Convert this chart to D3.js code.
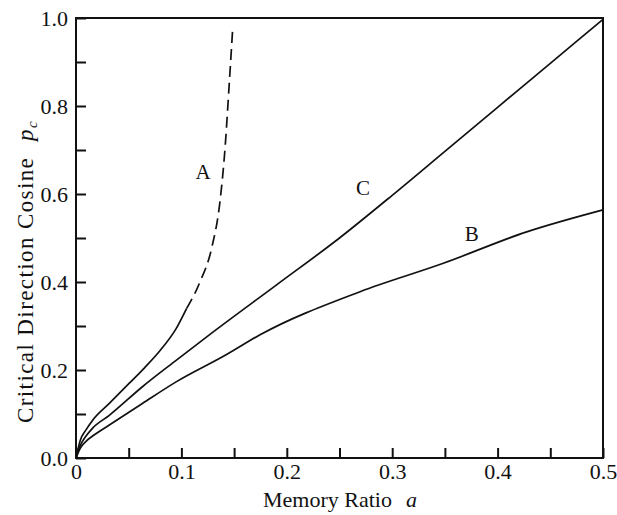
<!DOCTYPE html>
<html>
<head>
<meta charset="utf-8">
<script src="https://cdn.jsdelivr.net/npm/d3@7"></script>
<style>
  body { margin: 0; background: #fff; }
  text { font-family: "Liberation Serif", "Times New Roman", serif; fill: #111; }
</style>
</head>
<body>
<div id="chart"></div>
<script>
var svgWidth = 617;
var svgHeight = 515;

var margin = { top: 18, right: 14, bottom: 57, left: 76 };
var width = svgWidth - margin.left - margin.right;
var height = svgHeight - margin.top - margin.bottom;

// curve A (solid part, then dashed continuation)
var aSolidX = [0, 0.004, 0.0095, 0.0158, 0.0316, 0.0506, 0.065, 0.079, 0.095, 0.105];
var aSolidY = [0, 0.04, 0.064, 0.086, 0.124, 0.170, 0.205, 0.242, 0.294, 0.340];
var aDashX = [0.105, 0.1176, 0.1287, 0.1366, 0.1414, 0.1455, 0.1487];
var aDashY = [0.340, 0.40, 0.477, 0.583, 0.704, 0.855, 0.977];

// curve C
var cX = [0, 0.004, 0.0095, 0.0158, 0.0316, 0.063, 0.095, 0.1265, 0.19, 0.25, 0.3, 0.35, 0.4, 0.45, 0.5];
var cY = [0, 0.028, 0.05, 0.068, 0.097, 0.162, 0.222, 0.280, 0.393, 0.500, 0.597, 0.697, 0.797, 0.897, 0.997];

// curve B
var bX = [0, 0.004, 0.0095, 0.0158, 0.0316, 0.063, 0.095, 0.142, 0.1746, 0.2695, 0.3485, 0.4276, 0.5];
var bY = [0, 0.022, 0.038, 0.05, 0.075, 0.124, 0.173, 0.234, 0.28, 0.378, 0.4425, 0.514, 0.564];

var xTickLabels = [0, 0.1, 0.2, 0.3, 0.4, 0.5];
var yTickLabels = [0.0, 0.2, 0.4, 0.6, 0.8, 1.0];

var svg = d3.select("#chart")
  .append("svg")
  .attr("width", svgWidth)
  .attr("height", svgHeight);

var chartGroup = svg.append("g")
  .attr("transform", `translate(${margin.left}, ${margin.top})`);

var xScale = d3.scaleLinear().domain([0, 0.5]).range([0, width]);
var yScale = d3.scaleLinear().domain([0, 1]).range([height, 0]);

// inward ticks every 0.05 / 0.1, labels only on the major ones
var bottomAxis = d3.axisBottom(xScale)
  .tickValues(d3.range(0, 0.5001, 0.05))
  .tickSize(-10)
  .tickPadding(5)
  .tickFormat(d => {
    var hit = xTickLabels.find(v => Math.abs(v - d) < 1e-6);
    return hit === undefined ? "" : (hit === 0 ? "0" : d3.format(".1f")(hit));
  });

var leftAxis = d3.axisLeft(yScale)
  .tickValues(d3.range(0, 1.0001, 0.1))
  .tickSize(-10)
  .tickPadding(8)
  .tickFormat(d => {
    var hit = yTickLabels.find(v => Math.abs(v - d) < 1e-6);
    return hit === undefined ? "" : d3.format(".1f")(hit);
  });

var xAxis = chartGroup.append("g")
  .attr("transform", `translate(0, ${height})`)
  .call(bottomAxis);

var yAxis = chartGroup.append("g").call(leftAxis);

[xAxis, yAxis].forEach(function(ax) {
  ax.select(".domain").remove();
  ax.selectAll(".tick line").attr("stroke", "#111").attr("stroke-width", 2);
  ax.selectAll(".tick text").style("font-size", "22px").attr("fill", "#111");
});

// frame
chartGroup.append("rect")
  .attr("x", 0)
  .attr("y", 0)
  .attr("width", width)
  .attr("height", height)
  .attr("fill", "none")
  .attr("stroke", "#111")
  .attr("stroke-width", 2);

function toPoints(xs, ys) {
  return xs.map((x, i) => [x, ys[i]]);
}

var line = d3.line()
  .x(d => xScale(d[0]))
  .y(d => yScale(d[1]))
  .curve(d3.curveMonotoneX);

function drawCurve(pts, dash) {
  chartGroup.append("path")
    .datum(pts)
    .attr("d", line)
    .attr("fill", "none")
    .attr("stroke", "#111")
    .attr("stroke-width", 1.7)
    .attr("stroke-dasharray", dash || null);
}

drawCurve(toPoints(aSolidX, aSolidY));
drawCurve(toPoints(aDashX, aDashY), "11,6");
drawCurve(toPoints(cX, cY));
drawCurve(toPoints(bX, bY));

// curve letters
var curveLabels = [
  { t: "A", a: 0.1205, p: 0.651 },
  { t: "C", a: 0.2723, p: 0.614 },
  { t: "B", a: 0.3754, p: 0.511 }
];
chartGroup.selectAll(".clabel")
  .data(curveLabels)
  .enter()
  .append("text")
  .attr("x", d => xScale(d.a))
  .attr("y", d => yScale(d.p))
  .attr("dy", "0.35em")
  .attr("text-anchor", "middle")
  .style("font-size", "21px")
  .text(d => d.t);

// axis titles
var xTitle = svg.append("text")
  .attr("x", 263)
  .attr("y", 507)
  .attr("text-anchor", "start")
  .style("font-size", "22px");
xTitle.append("tspan").text("Memory Ratio");
xTitle.append("tspan").attr("x", 406).style("font-style", "italic").text("a");

var yTitle = svg.append("text")
  .attr("transform", "translate(33, 423) rotate(-90)")
  .attr("text-anchor", "start")
  .style("font-size", "23px")
  .style("letter-spacing", "1.4px");
yTitle.append("tspan").text("Critical Direction Cosine");
yTitle.append("tspan").attr("x", 282).style("font-style", "italic").text("p");
yTitle.append("tspan").style("font-style", "italic").style("font-size", "15px").attr("dy", "4").text("c");
</script>
</body>
</html>
